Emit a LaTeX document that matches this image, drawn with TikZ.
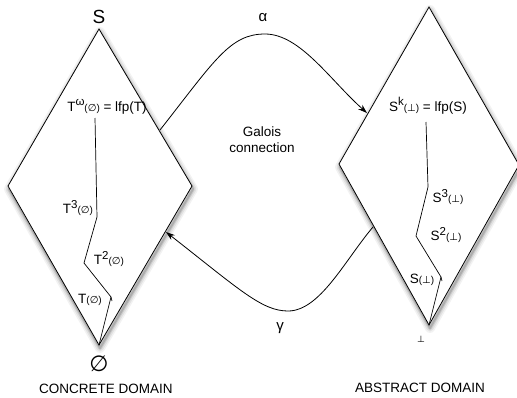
\documentclass[tikz,border=0pt]{standalone}
\usepackage{fontspec}
\setmainfont{Liberation Sans}
\newfontfamily\symf{DejaVu Sans}
\usetikzlibrary{arrows.meta}
\newcommand{\emp}{{\symf ∅}}
\newcommand{\btm}{{\symf ⊥}}
\newcommand{\argm}[1]{{\fontsize{10}{10}\selectfont(#1)}}
\newcommand{\sups}[1]{\raisebox{0.42em}{\fontsize{11.5}{11.5}\selectfont #1}}
\begin{document}
\begin{tikzpicture}[x=1pt,y=-1pt,
  font=\fontsize{13.5}{16}\selectfont,
  edge/.style={draw=black, line width=0.8pt, fill=white, line join=miter},
  chainline/.style={line width=0.7pt},
  arr/.style={line width=0.8pt, -{Stealth[length=9pt,width=6pt]}},
  lbl/.style={inner sep=0pt, anchor=center}]
\useasboundingbox (0,0) rectangle (517,397);
% diamond vertices
\coordinate (LT) at (99,29);
\coordinate (LR) at (192,186);
\coordinate (LB) at (99,345);
\coordinate (LL) at (8,186);
\coordinate (RT) at (429,7);
\coordinate (RR) at (519,165);
\coordinate (RB) at (429,325);
\coordinate (RL) at (339,164);
% shadows
\foreach \w/\o in {10/0.05,7/0.07,4/0.1,2/0.14}{
  \draw[line width=\w pt, black, opacity=\o, line join=round]
    ([shift={(1,3)}]LT)--([shift={(1,3)}]LR)--([shift={(1,3)}]LB)--([shift={(1,3)}]LL)--cycle;
  \draw[line width=\w pt, black, opacity=\o, line join=round]
    ([shift={(1,3)}]RT)--([shift={(1,3)}]RR)--([shift={(1,3)}]RB)--([shift={(1,3)}]RL)--cycle;
}
\filldraw[edge] (LT)--(LR)--(LB)--(LL)--cycle;
\filldraw[edge] (RT)--(RR)--(RB)--(RL)--cycle;
% labels left
\node[lbl] (S) at (99,17) {\fontsize{19}{19}\selectfont S};
\node[lbl] (Tw) at (107,107) {T\sups{ω}\argm{\emp} = lfp(T)};
\node[lbl] (T3) at (78,208) {T\sups{3}\argm{\emp}};
\node[lbl] (T2) at (109,259) {T\sups{2}\argm{\emp}};
\node[lbl] (T1) at (90,300) {T\argm{\emp}};
\node[lbl] (E) at (99,364) {\fontsize{22}{22}\selectfont\emp};
\node[lbl] (CD) at (106,389) {CONCRETE DOMAIN};
% labels right
\node[lbl] (Sk) at (428,106) {S\sups{k}\argm{\btm} = lfp(S)};
\node[lbl] (S3) at (448,197) {S\sups{3}\argm{\btm}};
\node[lbl] (S2) at (446,235) {S\sups{2}\argm{\btm}};
\node[lbl] (S1) at (422,280) {S\argm{\btm}};
\node[lbl] (B) at (421,339) {\fontsize{9}{9}\selectfont\btm};
\node[lbl] (AD) at (420,388) {ABSTRACT DOMAIN};
% middle labels
\node[lbl, align=center] (G) at (262,140) {Galois\\connection};
\node[lbl] (al) at (263,18) {\fontsize{15}{15}\selectfont α};
\node[lbl] (ga) at (280,328) {\fontsize{15}{15}\selectfont γ};
% chains
\coordinate (c1) at (95,118);
\coordinate (c2) at (97,217);
\coordinate (c3) at (84,263);
\coordinate (c4) at (111,297);
\draw[chainline] (c1)--(c2)--(c3)--(c4)--(LB);
\draw[chainline] (c4)--++(1,4);
\coordinate (d1) at (426,122);
\coordinate (d2) at (428,187);
\coordinate (d3) at (416,236);
\coordinate (d4) at (441,277);
\draw[chainline] (d1)--(d2)--(d3)--(d4)--(RB);
\draw[chainline] (d4)--++(1,4);
% connectors
\coordinate (aS) at (160,130);
\coordinate (aE) at (367,113);
\coordinate (gS) at (373,227);
\coordinate (gE) at (166,232);
\draw[arr] (aS) .. controls (215,60) and (230,34) .. (265,34)
  .. controls (300,34) and (330,80) .. (aE);
\draw[arr] (gS) .. controls (345,260) and (320,311) .. (288,311)
  .. controls (262,311) and (240,290) .. (gE);
\end{tikzpicture}
\end{document}
